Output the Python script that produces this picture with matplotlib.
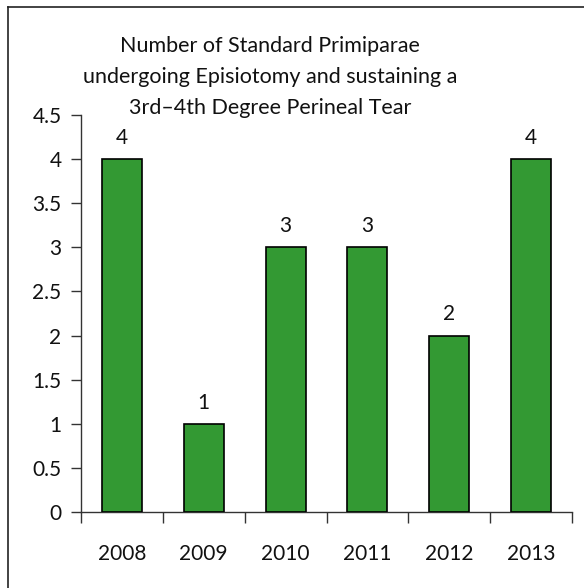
import matplotlib
matplotlib.use("Agg")
import matplotlib.pyplot as plt
from matplotlib.lines import Line2D
import numpy as np

years = ["2008", "2009", "2010", "2011", "2012", "2013"]
counts = [4, 1, 3, 3, 2, 4]
y_ticks = [0, 0.5, 1, 1.5, 2, 2.5, 3, 3.5, 4, 4.5]
y_tick_labels = ["0", "0.5", "1", "1.5", "2", "2.5", "3", "3.5", "4", "4.5"]
title_lines = [
    "Number of Standard Primiparae",
    "undergoing Episiotomy and sustaining a",
    "3rd\u20134th Degree Perineal Tear",
]

plt.rcParams["font.family"] = ["Lato", "DejaVu Sans"]
W, H = 584, 588
fig = plt.figure(figsize=(W / 100, H / 100), dpi=100)
fig.patch.set_facecolor("white")

# plot area in pixel terms
x0, x1 = 81, 572
y_top, y_zero = 115, 512
ax = fig.add_axes([x0 / W, 1 - y_zero / H, (x1 - x0) / W, (y_zero - y_top) / H])

x = np.arange(len(years))
bars = ax.bar(x, counts, width=0.49, color="#339933", edgecolor="black",
              linewidth=1.2, zorder=3)
for xi, v in zip(x, counts):
    ax.annotate(str(v), (xi, v), xytext=(0, 8), textcoords="offset points",
                ha="center", va="bottom", fontsize=15, color="#111111")

ax.set_xlim(-0.5, len(years) - 0.5)
ax.set_ylim(0, 4.5)
ax.set_yticks(y_ticks)
ax.set_yticklabels(y_tick_labels)

# category labels centred, ticks at the boundaries
ax.set_xticks(x)
ax.set_xticklabels(years)
ax.set_xticks(np.arange(-0.5, len(years)), minor=True)
ax.tick_params(axis="x", which="major", length=0, pad=23, labelsize=15,
               labelcolor="#111111")
ax.tick_params(axis="x", which="minor", length=8, width=1, color="#333333",
               direction="out")
ax.tick_params(axis="y", length=7, width=1, color="#333333", pad=7,
               labelsize=15, labelcolor="#111111")

for side in ("top", "right"):
    ax.spines[side].set_visible(False)
for side in ("left", "bottom"):
    ax.spines[side].set_color("#333333")
    ax.spines[side].set_linewidth(1)

# chart title, three lines
for i, line in enumerate(title_lines):
    fig.text(270 / W, 1 - (46 + 31 * i) / H, line, ha="center", va="center",
             fontsize=15.5, color="#111111")

# outer frame edges
fig.add_artist(Line2D([8 / W, 1], [1 - 7 / H, 1 - 7 / H], color="#222222",
                      linewidth=1.2, transform=fig.transFigure))
fig.add_artist(Line2D([8 / W, 8 / W], [0, 1 - 7 / H], color="#222222",
                      linewidth=1.2, transform=fig.transFigure))

fig.savefig("out.png", dpi=100, facecolor="white")
